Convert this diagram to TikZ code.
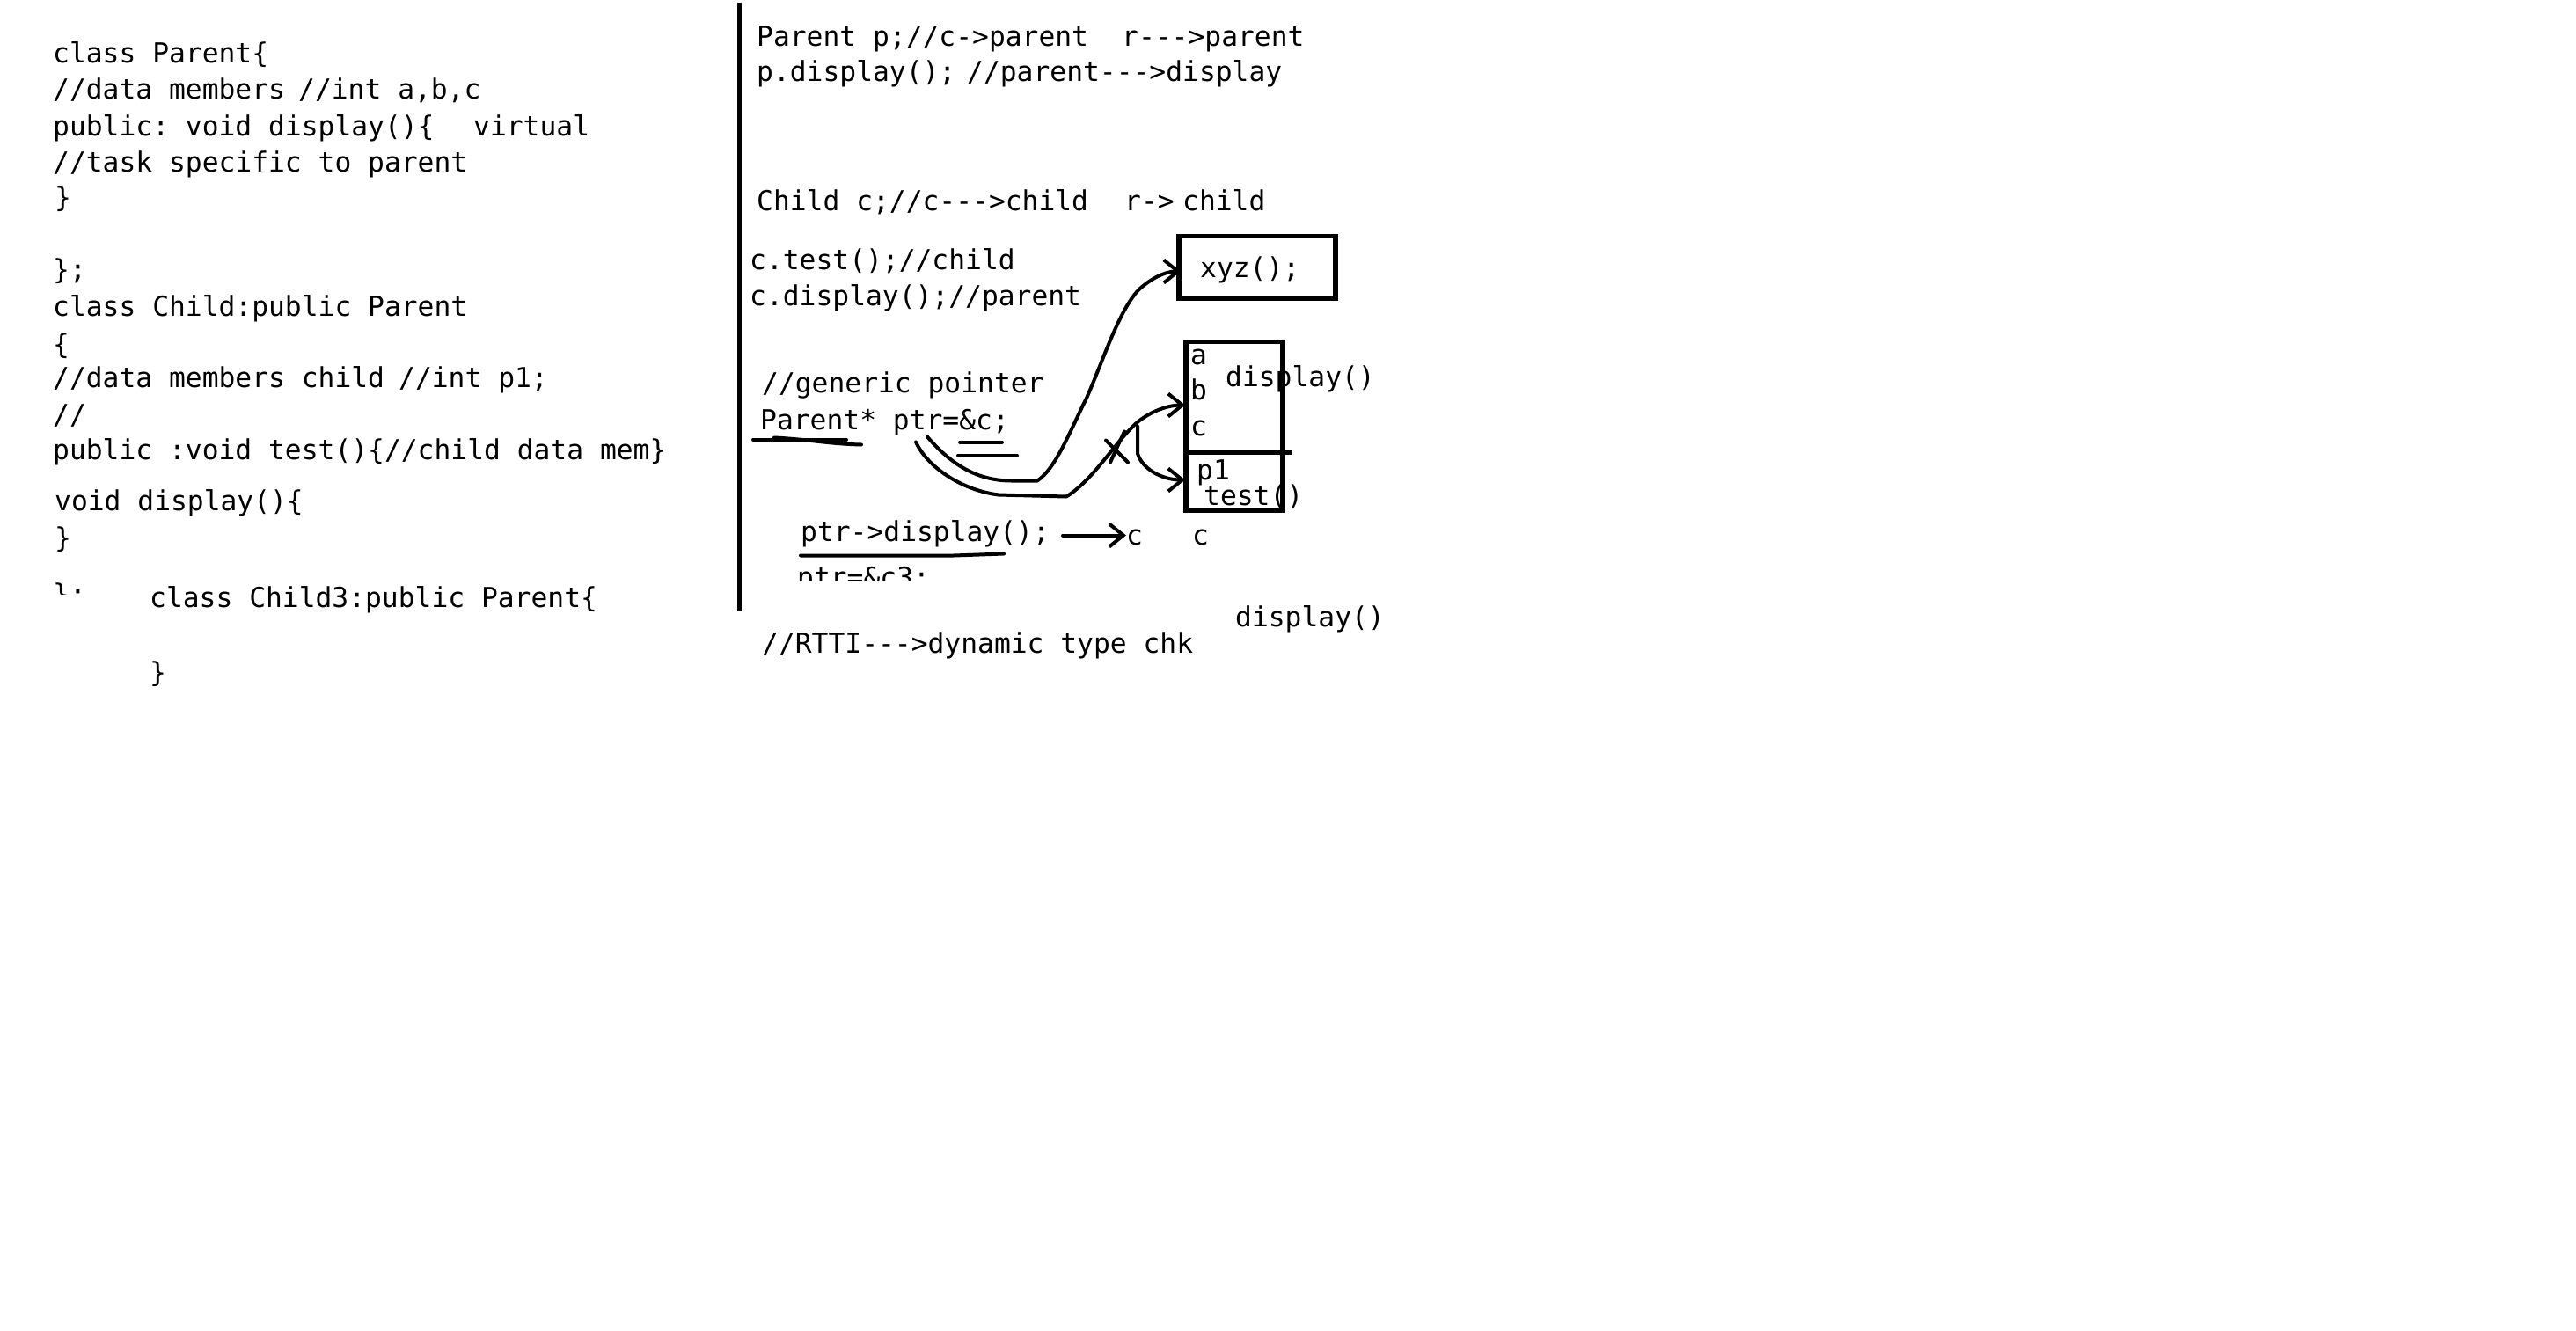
\documentclass[tikz,border=0pt]{standalone}
\usepackage{fontspec}
\setmonofont{DejaVu Sans Mono}
\usetikzlibrary{arrows.meta}
\newcommand\codefont{\ttfamily\fontsize{31.3}{38}\selectfont}
\begin{document}
\begin{tikzpicture}[x=1pt,y=-1pt,
  txt/.style={anchor=base west, inner sep=0pt, font=\codefont},
  pen/.style={line width=4pt, line cap=round, line join=round},
  boxline/.style={draw, line width=5.5pt, inner sep=0pt},
  tip/.style={-{Straight Barb[length=16pt,width=26pt,line width=4pt]}}]
\path[fill=white] (0,0) rectangle (2928,1510);
% ---------- left column ----------
\node[txt] (l1) at (60,69) {class Parent\{};
\node[txt] (l2a) at (60,110) {//data members};
\node[txt] (l2b) at (339,110) {//int a,b,c};
\node[txt] (l3a) at (60,152) {public: void display()\{};
\node[txt] (l3b) at (538,152) {virtual};
\node[txt] (l4) at (60,193) {//task specific to parent};
\node[txt] (l5) at (62,233) {\}};
\node[txt] (l6) at (60,315) {\};};
\node[txt] (l7) at (60,357) {class Child:public Parent};
\node[txt] (l8) at (60,400) {\{};
\node[txt] (l9a) at (60,438) {//data members child};
\node[txt] (l9b) at (453,438) {//int p1;};
\node[txt] (l10) at (60,480) {//};
\node[txt] (l11) at (60,520) {public :void test()\{//child data mem\}};
\node[txt] (l12) at (62,578) {void display()\{};
\node[txt] (l13) at (62,620) {\}};
\begin{scope}
  \clip (0,0) rectangle (800,673);
  \node[txt] (l14) at (60,684) {\};};
\end{scope}
\node[txt] (l15) at (170,688) {class Child3:public Parent\{};
\node[txt] (l16) at (170,773) {\}};
% ---------- divider ----------
\coordinate (vtop) at (840,0);
\coordinate (vbot) at (840,692);
\draw[line width=5pt] (vtop) -- (vbot);
% ---------- right column ----------
\node[txt] (r1a) at (860,50) {Parent p;//c->parent};
\node[txt] (r1b) at (1275,50) {r--->parent};
\node[txt] (r2a) at (860,90) {p.display();};
\node[txt] (r2b) at (1099,90) {//parent--->display};
\node[txt] (r3a) at (860,237) {Child c;//c--->child};
\node[txt] (r3b) at (1278,237) {r->};
\node[txt] (r3c) at (1344,237) {child};
\node[txt] (r4) at (852,304) {c.test();//child};
\node[txt] (r5) at (852,345) {c.display();//parent};
\node[txt] (r6) at (866,444) {//generic pointer};
\node[txt] (r7) at (864,486) {Parent* ptr=\&c;};
\node[txt] (r8) at (910,613) {ptr->display();};
\begin{scope}
  \clip (850,600) rectangle (1300,658);
  \node[txt] (r9) at (906,665) {ptr=\&c3;};
\end{scope}
\node[txt] (r10) at (866,740) {//RTTI--->dynamic type chk};
\node[txt] (r11) at (1404,710) {display()};
% ---------- boxes ----------
\node[boxline, minimum width=178pt, minimum height=71pt] (xyzbox) at (1429,301.5) {};
\node[txt] (xyz) at (1364,313) {xyz();};
\node[txt] (fa) at (1353,412) {a};
\node[txt] (fb) at (1353,452) {b};
\node[txt] (fc) at (1353,493) {c};
\node[txt] (fdisp) at (1393,437) {display()};
\node[txt] (fp1) at (1360,543) {p1};
\node[txt] (ftest) at (1368,572) {test()};
\node[boxline, minimum width=110pt, minimum height=192pt] (objbox) at (1403,482) {};
\coordinate (divL) at (1348,512);
\coordinate (divR) at (1468,512);
\draw[line width=5.5pt] (divL) -- (divR);
\node[txt] (cbelow) at (1355,617) {c};
\node[txt] (carrow) at (1280,617) {c};
% ---------- underlines ----------
\coordinate (u1a) at (856,497); \coordinate (u1b) at (962,497);
\coordinate (u2a) at (880,495); \coordinate (u2b) at (979,503);
\draw[pen] (u1a) -- (u1b);
\draw[pen] (u2a) .. controls (920,497) and (940,502) .. (u2b);
\coordinate (u3a) at (1091,500); \coordinate (u3b) at (1139,500);
\coordinate (u4a) at (1089,515); \coordinate (u4b) at (1156,515);
\draw[pen] (u3a) -- (u3b);
\draw[pen] (u4a) -- (u4b);
\coordinate (u5a) at (910,629); \coordinate (u5b) at (1141,627);
\draw[pen] (u5a) -- (1084,629) -- (u5b);
% ---------- pointer curves ----------
\coordinate (sA) at (1054,494);
\coordinate (tA) at (1342,306);
\draw[pen,tip] (sA) .. controls (1085,530) and (1115,544) .. (1150,544)
  -- (1179,544) .. controls (1200,530) and (1215,490) .. (1235,450)
  .. controls (1255,405) and (1275,340) .. (1300,322)
  .. controls (1315,310) and (1328,306) .. (tA);
\coordinate (sB) at (1041,500);
\coordinate (tB) at (1347,458);
\draw[pen,tip] (sB) .. controls (1055,530) and (1095,555) .. (1135,560)
  -- (1212,562) .. controls (1240,545) and (1265,505) .. (1285,485)
  .. controls (1300,468) and (1325,458) .. (tB);
\coordinate (sC) at (1293,482);
\coordinate (tC) at (1347,543);
\draw[pen,tip] (sC) -- (1293,513) .. controls (1298,530) and (1320,543) .. (tC);
% X mark
\coordinate (x1) at (1257,498); \coordinate (x2) at (1282,523);
\coordinate (x3) at (1278,488); \coordinate (x4) at (1262,523);
\draw[pen] (x1) -- (x2);
\draw[pen] (x3) -- (x4);
% arrow to c
\coordinate (aS) at (1208,606);
\draw[pen,tip] (aS) -- (carrow.west |- aS);
\end{tikzpicture}
\end{document}
